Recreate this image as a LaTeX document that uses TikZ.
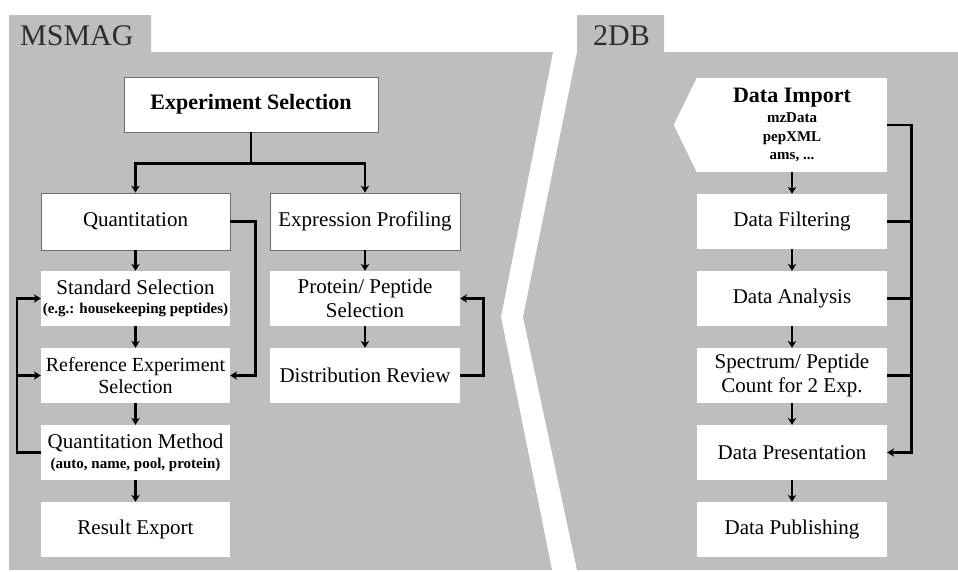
\documentclass[tikz,border=0pt]{standalone}
\usepackage{fontspec}
\setmainfont{Liberation Serif}
\usetikzlibrary{arrows.meta,calc}
\definecolor{panelgrey}{RGB}{190,190,190}
\definecolor{tabink}{RGB}{45,45,45}
\definecolor{boxline}{RGB}{110,110,110}
\begin{document}
\begin{tikzpicture}[x=1pt,y=-1pt,
  box/.style={fill=white, inner sep=0pt, align=center, text=black,
    font=\fontsize{21}{23}\selectfont},
  framed/.style={box, draw=boxline, line width=0.8pt},
  lbox/.style={minimum width=189, minimum height=55},
  rbox/.style={minimum width=190, minimum height=55},
  arr/.style={line width=2.6pt, -{Stealth[length=7pt,width=8.5pt]}},
  ln/.style={line width=2.6pt},
  tabtxt/.style={font=\fontsize{30}{30}\selectfont, text=tabink, anchor=base west, inner sep=0pt}]
\useasboundingbox (0,0) rectangle (958,571);
% panels
\fill[panelgrey] (9,15) -- (151,15) -- (151,52) -- (553,52) -- (501,317) -- (552,570) -- (9,570) -- cycle;
\fill[panelgrey] (577,15) -- (664,15) -- (664,52) -- (958,52) -- (958,570) -- (577,570) -- (523,317) -- (577,52) -- cycle;
\node[tabtxt] (msmag) at (20,45) {MSMAG};
\node[tabtxt] (tdb) at (593,45) {2DB};
% MSMAG nodes
\node[framed, minimum width=254, minimum height=55, font=\fontsize{22}{24}\selectfont\bfseries] (es) at (251,104.5) {Experiment Selection};
\node[framed, lbox, minimum height=57] (qt) at (135.5,221.5) {Quantitation};
\node[framed, rbox, minimum height=57] (ep) at (365,221.5) {Expression Profiling};
\node[box, lbox] (ss) at (135.5,298.5) {Standard Selection\\[-4pt]{\fontsize{15}{17}\selectfont\bfseries (e.g.: housekeeping peptides)}};
\node[box, lbox, font=\fontsize{20}{23}\selectfont] (re) at (135.5,375.5) {Reference Experiment\\[-1pt]Selection};
\node[box, lbox] (qm) at (135.5,452.5) {Quantitation Method\\[-3pt]{\fontsize{15}{17}\selectfont\bfseries (auto, name, pool, protein)}};
\node[box, lbox] (rx) at (135.5,529.5) {Result Export};
\node[box, rbox] (pp) at (365,298.5) {Protein/ Peptide\\[1pt]Selection};
\node[box, rbox] (dr) at (365,375.5) {Distribution Review};
% 2DB nodes
\node[box, rbox, minimum height=94, font=\fontsize{15}{18.5}\selectfont\bfseries] (di) at (792,125) {{\fontsize{22}{24}\selectfont Data Import}\\[1.5pt]mzData\\pepXML\\ams, ...};
\fill[white] (di.north west) -- (di.south west) -- ($(di.west)+(-23,0)$) -- cycle;
\node[box, rbox] (df) at (792,221.5) {Data Filtering};
\node[box, rbox] (da) at (792,298.5) {Data Analysis};
\node[box, rbox] (sp) at (792,375.5) {Spectrum/ Peptide\\[1pt]Count for 2 Exp.};
\node[box, rbox] (dp) at (792,452.5) {Data Presentation};
\node[box, rbox] (pub) at (792,529.5) {Data Publishing};
% MSMAG connectors
\draw[ln] (es.south) -- ++(0,31) coordinate (br);
\draw[arr] (br) -| (qt.north);
\draw[arr] (br) -| (ep.north);
\draw[arr] (qt.south) -- (ss.north);
\draw[arr] (ss.south) -- (re.north);
\draw[arr] (re.south) -- (qm.north);
\draw[arr] (qm.south) -- (rx.north);
\draw[arr] (ep.south) -- (pp.north);
\draw[arr] (pp.south) -- (dr.north);
\draw[arr] (qt.east) -- ++(25,0) |- (re.east);
\draw[arr] (qm.west) -- ++(-24,0) coordinate (lc) |- (ss.west);
\draw[arr] (lc |- re.west) -- (re.west);
\draw[arr] (dr.east) -- ++(23,0) |- (pp.east);
% 2DB connectors
\draw[arr] (di.south) -- (df.north);
\draw[arr] (df.south) -- (da.north);
\draw[arr] (da.south) -- (sp.north);
\draw[arr] (sp.south) -- (dp.north);
\draw[arr] (dp.south) -- (pub.north);
\draw[arr] (di.east) -- ++(24,0) coordinate (bus) |- (dp.east);
\draw[ln] (df.east) -- (df.east -| bus);
\draw[ln] (da.east) -- (da.east -| bus);
\draw[ln] (sp.east) -- (sp.east -| bus);
\end{tikzpicture}
\end{document}
